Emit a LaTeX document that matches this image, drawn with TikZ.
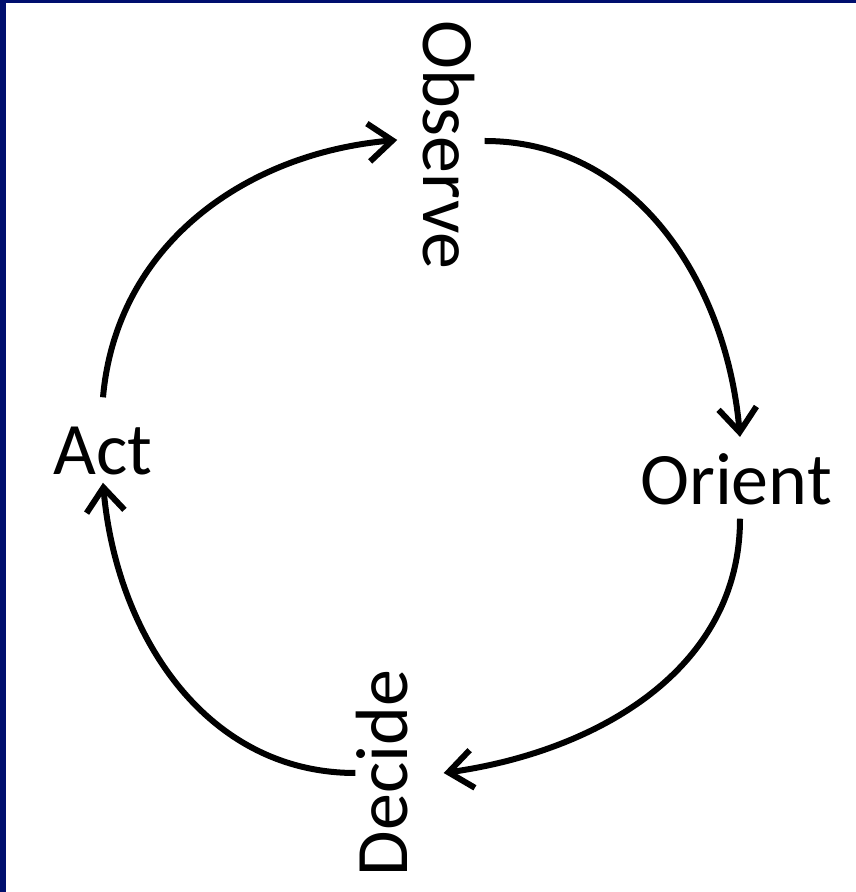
\documentclass[tikz,border=0pt]{standalone}
\usepackage{fontspec}
\setmainfont{Carlito}
\usetikzlibrary{arrows.meta}
\definecolor{frameblue}{RGB}{0,15,110}
\tikzset{phase/.style={inner sep=0pt,font=\fontsize{74}{88}\selectfont},
  looparr/.style={line width=6pt,-{Straight Barb[length=24pt,width=38pt]}}}

\begin{document}
\begin{tikzpicture}[x=1pt,y=1pt]
  \useasboundingbox (0,0) rectangle (856,892);
  \fill[frameblue] (0,0) rectangle (856,892);
  \fill[white] (6,0) rectangle (856,889);
  % the four phases
  \node[phase,rotate=-90,anchor=base] (observe) at (423,747) {Observe};
  \node[phase,anchor=base] (orient) at (736,387) {Orient};
  \node[phase,rotate=90,anchor=base] (decide) at (407,119) {Decide};
  \node[phase,anchor=base] (act) at (103,417) {Act};
  % arrows round the loop
  \draw[looparr] ([yshift=30pt]act.north) to[out=85,in=185] ([xshift=-25pt,yshift=5pt]observe.south);
  \draw[looparr] ([xshift=10pt,yshift=4pt]observe.north) to[out=0,in=95] ([xshift=4pt,yshift=17pt]orient.north);
  \draw[looparr] ([xshift=4pt,yshift=-13pt]orient.south) to[out=-90,in=8] ([xshift=36pt]decide.south);
  \draw[looparr] (decide.north) to[out=180,in=-85] ([yshift=-7pt]act.south);
\end{tikzpicture}
\end{document}
